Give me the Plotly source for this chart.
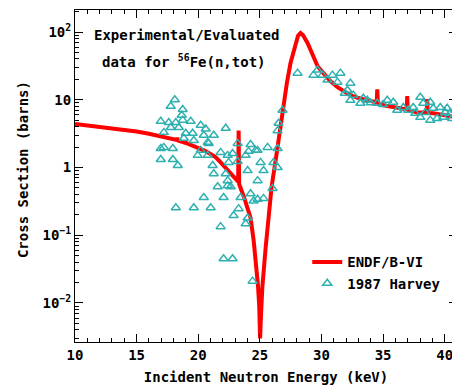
import plotly.graph_objects as go

# ENDF/B-VI evaluated curve (keV, barns)
endf_energy = [10.0, 11.0, 12.0, 13.0, 14.0, 15.0, 16.0, 17.0, 18.0, 18.25, 18.3, 18.35,
               19.0, 19.5, 20.0, 20.5, 21.0, 21.4, 21.8, 22.2, 22.5, 22.9, 23.24, 23.28, 23.32,
               23.7, 24.0, 24.25, 24.5, 24.7, 24.85, 24.95, 25.02, 25.1, 25.2, 25.47, 25.74,
               25.95, 26.28, 26.6, 26.92, 27.2, 27.49, 27.89, 28.1, 28.3, 28.5, 28.87, 29.35,
               29.7, 30.16, 30.7, 31.3, 32.35, 33.0, 33.72, 34.48, 34.53, 34.58, 35.02, 35.7,
               36.4, 36.92, 36.96, 37.0, 37.77, 38.2, 38.54, 38.58, 38.62, 39.07, 40.0, 41.0]
endf_xs = [4.4, 4.2, 4.0, 3.8, 3.6, 3.4, 3.15, 2.9, 2.6, 2.55, 2.75, 2.5,
           2.3, 2.12, 1.95, 1.78, 1.58, 1.42, 1.2, 1.0, 0.9, 0.72, 0.62, 3.5, 0.57,
           0.37, 0.24, 0.18, 0.083, 0.039, 0.018, 0.009, 0.003, 0.007, 0.0167, 0.065, 0.255,
           0.51, 1.27, 3.2, 9.8, 18.0, 34.8, 68.8, 88.0, 96.7, 90.0, 68.8, 41.2,
           31.0, 24.7, 19.0, 15.3, 11.7, 10.6, 9.8, 9.1, 14.3, 9.0, 8.3, 7.9,
           7.5, 7.2, 11.3, 7.1, 6.5, 6.5, 6.5, 10.2, 6.4, 6.3, 5.9, 5.5]

# 1987 Harvey measurement (keV, barns)
harvey_energy = [18.10, 17.77, 18.74, 18.66, 16.96, 17.61, 18.18, 18.74, 19.39, 20.20,
                 17.77, 18.42, 17.21, 18.99, 19.55, 20.61, 21.26, 22.23, 18.83, 19.64,
                 20.45, 20.85, 16.96, 17.21, 17.94, 20.20, 19.96, 20.77, 21.82, 22.39,
                 24.25, 24.09, 24.82, 16.96, 17.94, 18.34, 21.17, 22.47, 23.20, 24.01,
                 22.39, 21.58, 22.63, 22.06, 20.45, 24.25, 24.82, 18.18, 19.64, 21.01,
                 23.28, 22.87, 21.82, 23.85, 20.77, 23.20, 25.63, 24.66, 26.44, 22.79,
                 23.85, 25.06, 26.11, 25.30, 26.44, 21.26, 22.23, 24.82, 22.39, 26.03,
                 23.44, 24.49, 25.30, 24.01, 22.06, 22.79, 24.41,
                 28.06, 26.52, 26.84, 26.44, 29.35, 29.68, 30.08, 30.89, 31.54, 30.49,
                 31.30, 32.35, 32.11, 32.59, 32.35, 33.16, 33.72, 34.53, 35.34, 35.83,
                 36.15, 36.64, 37.45, 38.02, 38.26, 38.83, 39.07, 39.64, 40.20, 40.45,
                 38.02, 38.83, 39.39, 39.88, 40.61, 37.04, 37.61, 38.42, 40.04, 40.85,
                 40.93, 34.0, 35.0, 33.4, 31.9]
harvey_xs = [10.0, 8.0, 7.2, 5.9, 4.8, 4.6, 4.6, 5.0, 4.8, 4.2,
             3.9, 3.9, 3.3, 3.2, 3.2, 3.7, 3.0, 3.8, 2.7, 2.5,
             3.0, 2.27, 1.91, 1.98, 1.91, 1.79, 1.51, 1.51, 1.67, 1.51,
             2.19, 1.73, 1.79, 1.31, 1.31, 1.07, 1.07, 1.19, 1.23, 0.90,
             0.64, 0.52, 0.52, 0.36, 0.36, 0.41, 0.34, 0.255, 0.255, 0.255,
             0.247, 0.195, 0.134, 0.148, 2.35, 2.27, 1.98, 1.79, 1.91, 1.61,
             1.51, 1.19, 1.19, 0.90, 1.0, 0.81, 0.81, 0.64, 0.54, 0.49,
             0.36, 0.32, 0.35, 0.18, 0.045, 0.045, 0.021,
             24.7, 4.5, 7.0, 3.5, 23.1, 27.4, 23.1, 23.1, 24.7, 19.5,
             18.2, 17.6, 13.8, 11.7, 9.8, 8.9, 9.8, 8.9, 9.8, 9.2,
             7.0, 7.7, 7.7, 10.9, 8.9, 9.2, 7.5, 7.7, 7.5, 6.3,
             5.5, 5.0, 5.3, 5.5, 5.3, 7.0, 6.3, 6.5, 6.5, 7.0,
             5.9, 9.0, 8.5, 10.5, 12.5]

y_tickvals = [0.01, 0.1, 1, 10, 100]
y_ticktext = ["10<sup>\u22122</sup>", "10<sup>\u22121</sup>", "1", "10", "10<sup>2</sup>"]

FONT = "DejaVu Sans Mono"
TEAL = "#2FB0B0"

fig = go.Figure()
fig.add_trace(go.Scatter(x=endf_energy, y=endf_xs, mode="lines", name="ENDF/B-VI",
                         line=dict(color="#FF0000", width=4)))
fig.add_trace(go.Scatter(x=harvey_energy, y=harvey_xs, mode="markers", name="1987 Harvey",
                         marker=dict(symbol="triangle-up-open", size=8, color=TEAL,
                                     line=dict(width=1.5, color=TEAL))))

minor_y = [m * 10.0 ** d for d in range(-3, 3) for m in range(2, 10)]

# page body adds an 8px offset, so the figure is sized to fill the 460x385 window
fig.update_layout(
    width=452, height=377,
    margin=dict(l=67, r=3, t=2, b=43),
    paper_bgcolor="white", plot_bgcolor="white",
    font=dict(family=FONT, size=14, color="black", weight="bold"),
    showlegend=True,
    legend=dict(x=0.608, y=0.288, xanchor="left", yanchor="top",
                bgcolor="rgba(0,0,0,0)", font=dict(family=FONT, size=14, weight="bold"),
                tracegroupgap=4),
    annotations=[
        dict(text="Experimental/Evaluated", xref="paper", yref="paper", x=0.045, y=0.925,
             xanchor="left", yanchor="middle", showarrow=False,
             font=dict(family=FONT, size=14, weight="bold")),
        dict(text="data for <sup>56</sup>Fe(n,tot)", xref="paper", yref="paper", x=0.065, y=0.845,
             xanchor="left", yanchor="middle", showarrow=False,
             font=dict(family=FONT, size=14, weight="bold")),
        dict(text="Cross Section (barns)", xref="paper", yref="paper", x=-0.136, y=0.518,
             xanchor="center", yanchor="middle", textangle=-90, showarrow=False,
             font=dict(family=FONT, size=14, weight="bold")),
    ],
)

fig.update_xaxes(range=[10, 41], tickvals=[10, 15, 20, 25, 30, 35, 40], automargin=False,
                 ticks="inside", ticklen=8, tickcolor="black", showline=True, linecolor="black",
                 linewidth=1, mirror="ticks", showgrid=False, zeroline=False,
                 minor=dict(dtick=1, ticks="inside", ticklen=4, tickcolor="black", showgrid=False),
                 title=dict(text="Incident Neutron Energy (keV)",
                            font=dict(family=FONT, size=14, weight="bold")),
                 tickfont=dict(family=FONT, size=14, weight="bold"))
fig.update_yaxes(type="log", range=[-2.576, 2.325], tickvals=y_tickvals, ticktext=y_ticktext,
                 automargin=False,
                 ticks="inside", ticklen=8, tickcolor="black", showline=True, linecolor="black",
                 linewidth=1, mirror="ticks", showgrid=False, zeroline=False,
                 minor=dict(tickvals=minor_y, ticks="inside", ticklen=4, tickcolor="black",
                            showgrid=False),
                 tickfont=dict(family=FONT, size=14, weight="bold"))

fig.write_html("out.html")
